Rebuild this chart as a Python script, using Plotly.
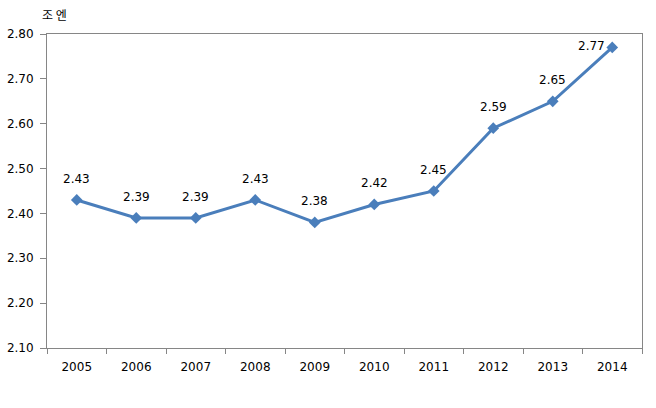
import plotly.graph_objects as go

years = ["2005", "2006", "2007", "2008", "2009", "2010", "2011", "2012", "2013", "2014"]
values = [2.43, 2.39, 2.39, 2.43, 2.38, 2.42, 2.45, 2.59, 2.65, 2.77]
y_ticks = [2.10, 2.20, 2.30, 2.40, 2.50, 2.60, 2.70, 2.80]
y_tick_labels = ["%.2f" % v for v in y_ticks]
unit_label = "조 엔"

num_font = "DejaVu Sans, Verdana, sans-serif"
kr_font = "Noto Sans CJK KR, Noto Sans, sans-serif"

fig = go.Figure()
fig.add_trace(go.Scatter(
    x=years, y=values,
    mode="lines+markers",
    line=dict(color="#4A7EBB", width=3),
    marker=dict(symbol="diamond", size=9, color="#4A7EBB"),
    cliponaxis=False,
    hoverinfo="skip",
))

annotations = []
last = len(values) - 1
for i, v in enumerate(values):
    if i == last:
        shift = dict(xshift=-21, yshift=1)  # last label sits left of its point
    else:
        shift = dict(xshift=0, yshift=21)
    annotations.append(dict(
        x=i, y=v, xref="x", yref="y", text="%.2f" % v,
        showarrow=False, xanchor="center", yanchor="middle",
        font=dict(size=12, color="#000000", family=num_font), **shift,
    ))

annotations.append(dict(
    text=unit_label, xref="paper", yref="paper",
    x=-0.012, y=1.0, xanchor="left", yanchor="middle", yshift=20,
    showarrow=False, font=dict(size=12, color="#000000", family=kr_font),
))

fig.update_layout(
    width=656, height=408,
    margin=dict(l=47, r=14, t=34, b=60, autoexpand=False),
    paper_bgcolor="white",
    plot_bgcolor="white",
    showlegend=False,
    font=dict(family=num_font, size=12, color="#000000"),
    xaxis=dict(
        type="category",
        tickson="boundaries",
        ticks="outside",
        ticklen=5,
        tickcolor="#868686",
        showline=True,
        linecolor="#868686",
        linewidth=1,
        mirror=True,
        showgrid=False,
        automargin=False,
        ticklabelstandoff=8,
        tickfont=dict(size=12, color="#000000", family=num_font),
        range=[-0.5, 9.5],
    ),
    yaxis=dict(
        range=[2.10, 2.80],
        tickvals=y_ticks,
        ticktext=y_tick_labels,
        ticks="outside",
        ticklen=6,
        tickcolor="#868686",
        showline=True,
        linecolor="#868686",
        linewidth=1,
        mirror=True,
        showgrid=False,
        zeroline=False,
        automargin=False,
        ticklabelstandoff=4,
        tickfont=dict(size=12, color="#000000", family=num_font),
    ),
    annotations=annotations,
)

fig.write_html("out.html", post_script="document.body.style.margin='0';",
               config={"displayModeBar": False})
